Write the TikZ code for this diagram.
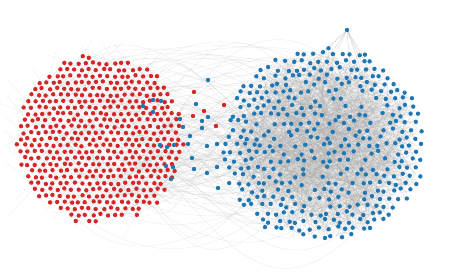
\documentclass[tikz,border=0pt]{standalone}
\definecolor{nred}{HTML}{D62728}
\definecolor{nblue}{HTML}{1F77B4}
\begin{document}
\begin{tikzpicture}[x=1pt,y=-1pt]
\tikzset{
  redge/.style={draw=gray!60,line width=0.25pt,opacity=0.3},
  bedge/.style={draw=gray!70,line width=0.25pt,opacity=0.35},
  xedge/.style={draw=gray!60,line width=0.25pt,opacity=0.35},
  rdot/.style={fill=nred},
  bdot/.style={fill=nblue}
}
\pgfmathsetseed{7}
\useasboundingbox (0,0) rectangle (449,273);
% red internal edges
\foreach \k in {1,...,450}{
  \pgfmathsetmacro\ra{82*sqrt(rnd)}
  \pgfmathsetmacro\ta{360*rnd}
  \pgfmathsetmacro\xa{100+\ra*cos(\ta)}
  \pgfmathsetmacro\ya{139+\ra*sin(\ta)}
  \pgfmathsetmacro\xb{\xa+rand*35}
  \pgfmathsetmacro\yb{\ya+rand*35}
  \draw[redge] (\xa,\ya) -- (\xb,\yb);
}
% blue internal edges
\foreach \k in {1,...,1300}{
  \pgfmathsetmacro\ra{sqrt(rnd)}
  \pgfmathsetmacro\ta{360*rnd}
  \pgfmathsetmacro\rb{sqrt(rnd)}
  \pgfmathsetmacro\tb{360*rnd}
  \pgfmathsetmacro\xa{323+100*\ra*cos(\ta)}
  \pgfmathsetmacro\ya{145+96*\ra*sin(\ta)}
  \pgfmathsetmacro\xb{323+100*\rb*cos(\tb)}
  \pgfmathsetmacro\yb{145+96*\rb*sin(\tb)}
  \draw[bedge] (\xa,\ya) -- (\xb,\yb);
}
% edges between the two groups
\foreach \k in {1,...,170}{
  \pgfmathsetmacro\ra{80*sqrt(rnd)}
  \pgfmathsetmacro\ta{360*rnd}
  \pgfmathsetmacro\rb{95*sqrt(rnd)}
  \pgfmathsetmacro\tb{360*rnd}
  \pgfmathsetmacro\xa{100+\ra*cos(\ta)}
  \pgfmathsetmacro\ya{139+\ra*sin(\ta)}
  \pgfmathsetmacro\xb{323+\rb*cos(\tb)}
  \pgfmathsetmacro\yb{145+\rb*sin(\tb)}
  \pgfmathsetmacro\bb{rand*85}
  \pgfmathsetmacro\ca{40+50*rnd}
  \pgfmathsetmacro\cb{40+50*rnd}
  \draw[xedge] (\xa,\ya) .. controls (\xa+\ca,\ya+\bb) and (\xb-\cb,\yb+\bb) .. (\xb,\yb);
}
% fan to the top node
\foreach \k in {1,...,16}{
  \pgfmathsetmacro\xb{300+100*rnd}
  \pgfmathsetmacro\yb{50+50*rnd}
  \draw[bedge] (347,30) -- (\xb,\yb);
}
% red nodes
\foreach \i in {-12,...,12}{
  \foreach \j in {-14,...,14}{
    \pgfmathsetmacro\px{100+\i*7.2+mod(\j+20,2)*3.6+rand*1.0}
    \pgfmathsetmacro\py{139+\j*6.3+rand*1.0}
    \pgfmathsetmacro\dd{((\px-100)/83)^2+((\py-139)/83)^2+rand*0.07}
    \ifdim\dd pt<1pt \fill[rdot] (\px,\py) circle (2.2); \fi
  }
}
% blue nodes
\foreach \i in {-12,...,12}{
  \foreach \j in {-14,...,14}{
    \pgfmathsetmacro\px{323+\i*8.8+mod(\j+20,2)*4.4+rand*2.2}
    \pgfmathsetmacro\py{145+\j*7.6+rand*2.2}
    \pgfmathsetmacro\dd{((\px-323)/102)^2+((\py-145)/97)^2+rand*0.06}
    \pgfmathtruncatemacro\keep{and(\dd<1,or(\dd>0.45,rnd>0.3))}
    \ifnum\keep=1 \fill[bdot] (\px,\py) circle (2.2); \fi
  }
}
% stray nodes
\foreach \p in {(143,106),(153,100),(161,101),(153,112),(180,119),(183,127),(196,104),(190,136),(188,144),(174,145),(167,147),(160,145),(192,158),(194,169),(166,166),(173,167),(171,179),(208,80),(207,146),(207,173),(217,167),(218,188),(208,117),(202,121),(202,128),(217,144),(347,30)}
  \fill[bdot] \p circle (2.2);
\foreach \p in {(194,92),(204,111),(224,105),(216,126),(193,116)}
  \fill[rdot] \p circle (2.2);
\end{tikzpicture}
\end{document}
